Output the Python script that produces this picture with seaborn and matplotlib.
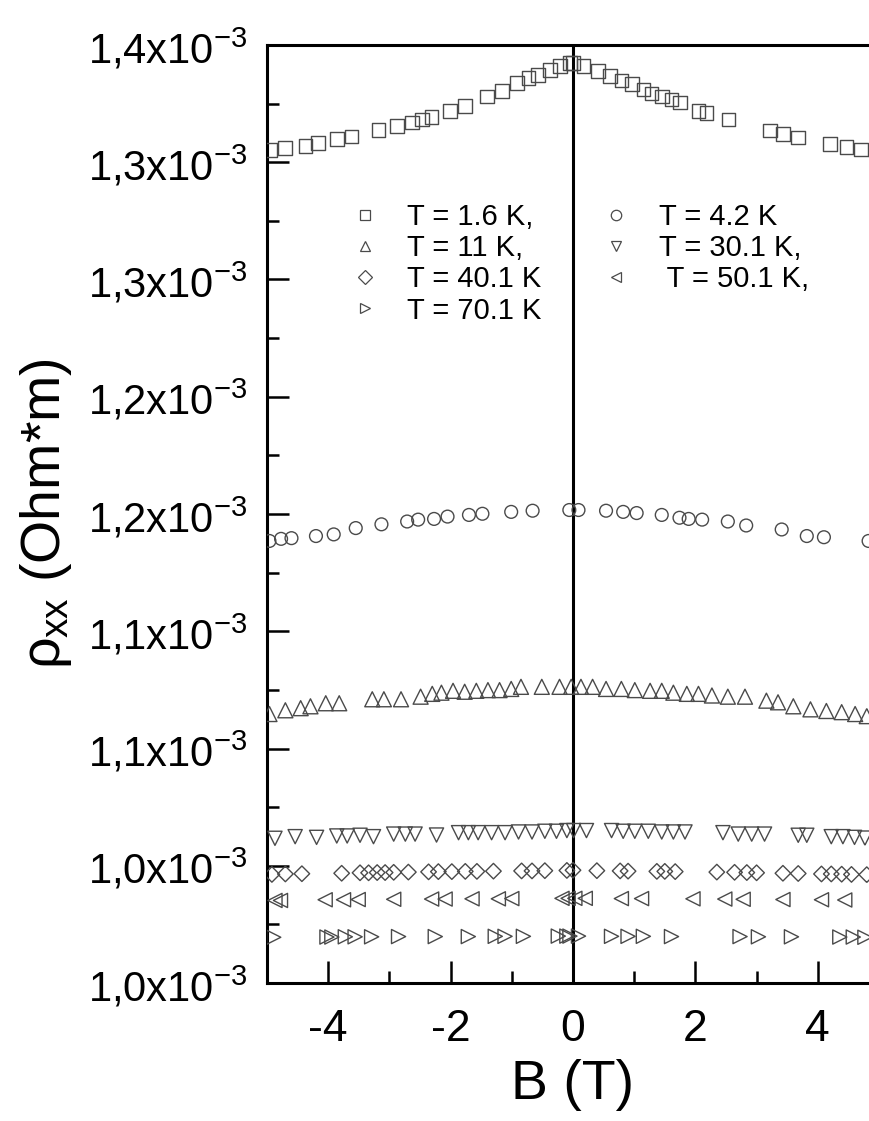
import numpy as np
import pandas as pd
import matplotlib
matplotlib.use("Agg")
import matplotlib.pyplot as plt
from matplotlib.lines import Line2D
from matplotlib.ticker import AutoMinorLocator
import seaborn as sns

# ---------------- data (rho in units of 1e-3 Ohm*m) ----------------
B_16 = [-4.95, -4.71, -4.37, -4.17, -3.86, -3.62, -3.18, -2.88, -2.63, -2.47, -2.31,
        -2.01, -1.76, -1.41, -1.16, -0.92, -0.73, -0.57, -0.38, -0.21, -0.05, 0.00,
        0.17, 0.41, 0.60, 0.79, 0.96, 1.15, 1.28, 1.45, 1.61, 1.75, 2.05, 2.18, 2.54,
        3.22, 3.43, 3.68, 4.20, 4.47, 4.71, 4.95]
rho_16 = [1.3552, 1.3560, 1.3570, 1.3583, 1.3598, 1.3609, 1.3638, 1.3655, 1.3669, 1.3683,
          1.3694, 1.3719, 1.3740, 1.3780, 1.3805, 1.3837, 1.3858, 1.3872, 1.3893, 1.3910,
          1.3922, 1.3922, 1.3910, 1.3890, 1.3868, 1.3848, 1.3834, 1.3811, 1.3794, 1.3780,
          1.3768, 1.3754, 1.3719, 1.3709, 1.3683, 1.3635, 1.3620, 1.3606, 1.3578, 1.3564,
          1.3555, 1.3550]

B_42 = [-4.96, -4.77, -4.60, -4.20, -3.91, -3.55, -3.13, -2.71, -2.53, -2.27, -2.05,
        -1.70, -1.48, -1.01, -0.66, -0.06, 0.09, 0.54, 0.82, 1.04, 1.45, 1.74, 1.89,
        2.11, 2.53, 2.83, 3.41, 3.82, 4.10, 4.83]
rho_42 = [1.1885, 1.1894, 1.1897, 1.1906, 1.1913, 1.1940, 1.1956, 1.1968, 1.1976, 1.1979,
          1.1989, 1.1996, 1.2001, 1.2009, 1.2014, 1.2017, 1.2017, 1.2014, 1.2009, 1.2004,
          1.1996, 1.1984, 1.1979, 1.1976, 1.1968, 1.1951, 1.1934, 1.1906, 1.1901, 1.1885]

B_11 = [-4.96, -4.70, -4.45, -4.29, -4.04, -3.82, -3.28, -3.09, -2.81, -2.49, -2.30,
        -2.15, -1.96, -1.77, -1.58, -1.39, -1.20, -1.01, -0.85, -0.51, -0.22, -0.03,
        0.13, 0.32, 0.54, 0.79, 1.01, 1.26, 1.45, 1.64, 1.86, 2.05, 2.27, 2.53, 2.81,
        3.16, 3.35, 3.60, 3.88, 4.14, 4.39, 4.61, 4.80]
rho_11 = [1.1147, 1.1163, 1.1172, 1.1180, 1.1193, 1.1193, 1.1210, 1.1210, 1.1210, 1.1221,
          1.1233, 1.1238, 1.1246, 1.1242, 1.1246, 1.1249, 1.1249, 1.1254, 1.1263, 1.1263,
          1.1263, 1.1263, 1.1263, 1.1263, 1.1254, 1.1254, 1.1249, 1.1246, 1.1246, 1.1238,
          1.1233, 1.1233, 1.1226, 1.1221, 1.1221, 1.1204, 1.1197, 1.1180, 1.1167, 1.1160,
          1.1155, 1.1147, 1.1138]

B_30 = [-4.87, -4.54, -4.19, -3.86, -3.69, -3.48, -3.26, -2.93, -2.74, -2.58, -2.23,
        -1.87, -1.71, -1.55, -1.33, -1.11, -0.89, -0.67, -0.46, -0.27, -0.10,
        0.01, 0.22, 0.63, 0.82, 1.01, 1.23, 1.45, 1.64, 1.83, 2.45, 2.70, 2.92, 3.13,
        3.68, 3.82, 4.22, 4.41, 4.60, 4.77]
rho_30 = [1.0617, 1.0624, 1.0621, 1.0627, 1.0627, 1.0630, 1.0624, 1.0635, 1.0635, 1.0635,
          1.0631, 1.0641, 1.0641, 1.0641, 1.0641, 1.0641, 1.0644, 1.0644, 1.0647, 1.0647,
          1.0650, 1.0650, 1.0650, 1.0650, 1.0647, 1.0647, 1.0647, 1.0644, 1.0644, 1.0644,
          1.0641, 1.0635, 1.0635, 1.0635, 1.0630, 1.0630, 1.0624, 1.0624, 1.0621, 1.0618]

B_40 = [-4.92, -4.70, -4.43, -3.78, -3.48, -3.34, -3.20, -3.07, -2.93, -2.69, -2.36,
        -2.20, -1.98, -1.76, -1.57, -1.30, -0.84, -0.67, -0.46, -0.10,
        0.00, 0.39, 0.77, 0.90, 1.37, 1.50, 1.67, 2.35, 2.64, 2.84, 3.00, 3.43, 3.68,
        4.06, 4.22, 4.39, 4.55, 4.80]
rho_40 = [1.0463, 1.0465, 1.0466, 1.0468, 1.0470, 1.0470, 1.0471, 1.0471, 1.0472, 1.0473,
          1.0474, 1.0475, 1.0475, 1.0476, 1.0476, 1.0477, 1.0478, 1.0478, 1.0479, 1.0480,
          1.0481, 1.0479, 1.0478, 1.0477, 1.0476, 1.0476, 1.0475, 1.0473, 1.0472, 1.0471,
          1.0470, 1.0468, 1.0467, 1.0465, 1.0465, 1.0464, 1.0463, 1.0462]

B_50 = [-4.87, -4.78, -4.05, -3.75, -3.51, -2.93, -2.31, -2.09, -1.65, -1.22, -1.00,
        -0.18, -0.08, 0.03, 0.20, 0.79, 1.12, 1.96, 2.48, 2.78, 3.43, 4.06, 4.44]
rho_50 = [1.0352, 1.0352, 1.0355, 1.0355, 1.0356, 1.0357, 1.0358, 1.0358, 1.0359, 1.0359,
          1.0360, 1.0361, 1.0361, 1.0361, 1.0361, 1.0360, 1.0360, 1.0359, 1.0358, 1.0357,
          1.0356, 1.0355, 1.0354]

B_70 = [-4.89, -4.02, -3.94, -3.72, -3.56, -3.29, -2.85, -2.25, -1.71, -1.27, -1.11,
        -0.81, -0.24, -0.10, -0.05, 0.09, 0.63, 0.90, 1.15, 1.61, 2.73, 3.03, 3.57,
        4.36, 4.58, 4.77]
rho_70 = [1.0195, 1.0196, 1.0196, 1.0197, 1.0197, 1.0197, 1.0198, 1.0198, 1.0198, 1.0199,
          1.0199, 1.0199, 1.0200, 1.0200, 1.0200, 1.0200, 1.0199, 1.0199, 1.0199, 1.0198,
          1.0198, 1.0197, 1.0197, 1.0196, 1.0196, 1.0195]

temperatures = ["1.6 K", "4.2 K", "11 K", "30.1 K", "40.1 K", "50.1 K", "70.1 K"]
legend_labels = ["T = 1.6 K,", "T = 4.2 K", "T = 11 K,", "T = 30.1 K,",
                 "T = 40.1 K", " T = 50.1 K,", "T = 70.1 K"]
series_B = [B_16, B_42, B_11, B_30, B_40, B_50, B_70]
series_rho = [rho_16, rho_42, rho_11, rho_30, rho_40, rho_50, rho_70]

ytick_values = [1.00, 1.05, 1.10, 1.15, 1.20, 1.25, 1.30, 1.35, 1.40]
ytick_text = ["1,0", "1,0", "1,1", "1,1", "1,2", "1,2", "1,3", "1,3", "1,4"]
xtick_values = [-4, -2, 0, 2, 4]

# ---------------- style ----------------
markers = ["s", "o", "^", "v", "D", "<", ">"]
msizes = [9.8, 9.2, 10.8, 10.2, 7.9, 10.2, 10.2]
edge = "#4a4a4a"

sns.set_style("ticks")
plt.rcParams["font.family"] = ["Liberation Sans", "DejaVu Sans"]
plt.rcParams["mathtext.fontset"] = "custom"
plt.rcParams["mathtext.rm"] = "Liberation Sans"
plt.rcParams["mathtext.it"] = "Liberation Sans"
plt.rcParams["mathtext.bf"] = "Liberation Sans:bold"
plt.rcParams["axes.unicode_minus"] = False
plt.rcParams["text.color"] = "black"
plt.rcParams["axes.labelcolor"] = "black"
plt.rcParams["xtick.color"] = "black"
plt.rcParams["ytick.color"] = "black"
plt.rcParams["xtick.labelcolor"] = "black"
plt.rcParams["ytick.labelcolor"] = "black"

frames = []
for t, b, r in zip(temperatures, series_B, series_rho):
    frames.append(pd.DataFrame({"B": b, "rho": np.array(r) * 1e-3, "T": t}))
df = pd.concat(frames, ignore_index=True)

W, H = 869, 1121
fig = plt.figure(figsize=(W / 100, H / 100), dpi=100)
ax = fig.add_axes([267 / W, (H - 983) / H, 612 / W, 938 / H])

ax.axvline(0, color="black", lw=2.2, zorder=1)

for t, m, ms in zip(temperatures, markers, msizes):
    sub = df[df["T"] == t]
    sns.scatterplot(data=sub, x="B", y="rho", marker=m, s=ms ** 2,
                    facecolors="none", edgecolor=edge, linewidth=1.0,
                    ax=ax, zorder=3, legend=False)

ax.set_xlim(-5, 5)
ax.set_ylim(1.00e-3, 1.40e-3)
ax.set_xticks(xtick_values)
ax.set_xticklabels([str(v) for v in xtick_values])
ax.set_yticks([v * 1e-3 for v in ytick_values])
ax.set_yticklabels([r"$\mathregular{%s{x}10^{-3}}$" % s.replace(",", "{,}") for s in ytick_text])
ax.xaxis.set_minor_locator(AutoMinorLocator(2))
ax.yaxis.set_minor_locator(AutoMinorLocator(2))

ax.tick_params(axis="both", which="major", direction="in", length=16, width=1.8,
               top=False, right=False, color="black")
ax.tick_params(axis="both", which="minor", direction="in", length=8.5, width=1.8,
               top=False, right=False, color="black")
ax.tick_params(axis="y", which="major", labelsize=30, pad=14)
ax.tick_params(axis="x", which="major", labelsize=32, pad=19)

for sp in ax.spines.values():
    sp.set_linewidth(2.2)
    sp.set_color("black")

ax.set_xlabel("B (T)", fontsize=40, labelpad=6)
ax.set_ylabel(r"$\rho_{xx}$ (Ohm*m)", fontsize=40, labelpad=10)

# legend (column-major order)
order = [0, 2, 4, 6, 1, 3, 5]
handles = [Line2D([], [], linestyle="none", marker=markers[i], markersize=7.5,
                  markerfacecolor="none", markeredgecolor=edge, markeredgewidth=0.9)
           for i in order]
labels = [legend_labels[i] for i in order]
fig.legend(handles, labels, ncol=2, loc="upper left",
           bbox_to_anchor=(350 / W, 1 - 203 / H), bbox_transform=fig.transFigure,
           frameon=False, fontsize=21, borderpad=0, borderaxespad=0,
           handlelength=1.0, handletextpad=0.97, columnspacing=2.05,
           labelspacing=0.11)

fig.savefig("out.png", dpi=100)
